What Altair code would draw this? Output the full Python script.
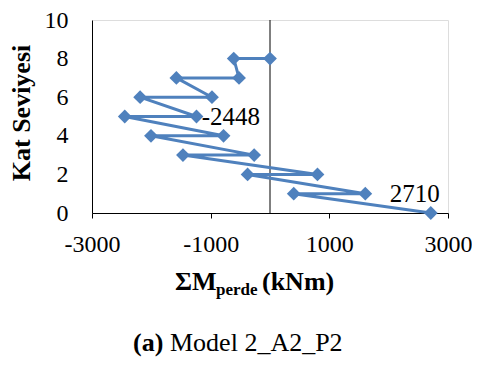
import altair as alt
import pandas as pd

# Path of the zig-zag line (floor level, moment)
moment = [2710, 400, 1606, -378, 800, -1467, -267, -2006, -783, -2448, -1239,
          -2189, -978, -1578, -522, -611, 0]
level = [0, 1, 1, 2, 2, 3, 3, 4, 4, 5, 5, 6, 6, 7, 7, 8, 8]

label_text = ["-2448", "2710"]
label_x = [-1150, 2017]
label_y = [5, 1]

x_ticks = [-3000, -1000, 1000, 3000]
y_ticks = [0, 2, 4, 6, 8, 10]

FONT = "Liberation Serif"
BLUE = "#4F81BD"

df = pd.DataFrame({"m": moment, "k": level, "idx": list(range(len(moment)))})
lab = pd.DataFrame({"t": label_text, "x": label_x, "y": label_y})

xs = alt.Scale(domain=[-3000, 3000], nice=False, zero=False)
ys = alt.Scale(domain=[0, 10], nice=False, zero=False)

LBL = "datum.value < 0 ? '-' + abs(datum.value) : '' + datum.value"

xax = alt.Axis(values=x_ticks, title=None, grid=False, domainColor="black",
               tickColor="black", tickSize=5, labelFont=FONT, labelFontSize=24,
               labelColor="black", labelPadding=14, labelFlush=False,
               labelOverlap=False, labelExpr=LBL)
yax = alt.Axis(values=y_ticks, title=None, grid=False, domainColor="black",
               ticks=False, tickSize=0, labelFont=FONT, labelFontSize=24,
               labelColor="black", labelPadding=24, labelOverlap=False,
               labelExpr=LBL)

X = lambda f: alt.X(f, scale=xs, axis=xax)
Y = lambda f: alt.Y(f, scale=ys, axis=yax)

line = alt.Chart(df).mark_line(color=BLUE, strokeWidth=3).encode(
    x=X("m:Q"), y=Y("k:Q"), order="idx:Q")
pts = alt.Chart(df).mark_point(shape="diamond", filled=True, size=190,
                               color=BLUE, opacity=1).encode(
    x=X("m:Q"), y=Y("k:Q"))

zero = alt.Chart(pd.DataFrame({"z": [0]})).mark_rule(color="black", strokeWidth=1).encode(
    x=X("z:Q"))

labels = alt.Chart(lab).mark_text(font=FONT, fontSize=25, align="left",
                                  baseline="middle", color="black").encode(
    x=X("x:Q"), y=Y("y:Q"), text="t:N")

one = pd.DataFrame({"a": [0]})


def txt(s, x, y, size, bold=False, angle=0, align="left"):
    kw = dict(font=FONT, fontSize=size, fontWeight="bold" if bold else "normal",
              color="black", align=align, baseline="middle", text=s)
    if angle:
        kw["angle"] = angle
    return alt.Chart(one).mark_text(**kw).encode(x=alt.value(x), y=alt.value(y))


ytitle = txt("Kat Seviyesi", -70, 93, 26, bold=True, angle=270, align="center")
xt1 = txt("ΣM", 83, 262, 26, bold=True)
xt2 = txt("perde", 124, 270, 17, bold=True)
xt3 = txt("(kNm)", 170, 262, 26, bold=True)
cap1 = txt("(a)", 41, 323, 26, bold=True)
cap2 = txt("Model 2_A2_P2", 78, 323, 26)

chart = alt.layer(zero, line, pts, labels, ytitle, xt1, xt2, xt3, cap1, cap2).properties(
    width=356, height=193,
    autosize=alt.AutoSizeParams(type="none"),
    padding={"left": 84, "top": 12, "right": 24, "bottom": 146},
).configure_view(stroke="black", strokeWidth=1).configure(
    background="white"
).configure_axis(labelFont=FONT, labelColor="black")

chart.save("out.html", embed_options={"renderer": "svg", "actions": False})
